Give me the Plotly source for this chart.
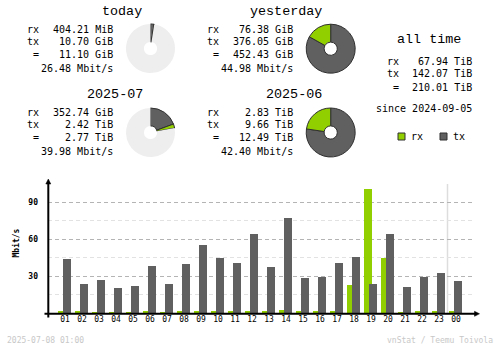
import plotly.graph_objects as go

W, H = 500, 348

RX_COLOR = "#92cf00"
TX_COLOR = "#606060"
EDGE = "#303030"
BLANK = "#eeeeee"
FONT = "DejaVu Sans Mono"
TITLE_FONT = "Liberation Mono"

# hourly average rates, Mbit/s
hours = ["01", "02", "03", "04", "05", "06", "07", "08", "09", "10", "11", "12",
         "13", "14", "15", "16", "17", "18", "19", "20", "21", "22", "23", "00"]
rx_rate = [1.0, 1.0, 0.2, 0.2, 0.2, 1.0, 0.2, 1.0, 1.0, 1.0, 1.0, 1.0,
           1.0, 2.7, 1.0, 1.0, 1.0, 23.0, 100.8, 44.9, 0.2, 1.0, 1.0, 1.0]
tx_rate = [44.0, 23.8, 27.0, 20.5, 22.2, 38.4, 23.8, 40.0, 55.4, 44.9, 40.8, 64.3,
           37.6, 77.3, 28.6, 29.5, 40.8, 45.7, 23.8, 64.3, 21.4, 29.5, 32.7, 26.2]

# period totals
today_gib = [404.21 / 1024, 10.70]        # rx, tx
yesterday_gib = [76.38, 376.05]
month_tib = [352.74 / 1024, 2.42]
prev_month_tib = [2.83, 9.66]

today_text = ["404.21 MiB", "10.70 GiB", "11.10 GiB", "26.48 Mbit/s"]
yesterday_text = ["76.38 GiB", "376.05 GiB", "452.43 GiB", "44.98 Mbit/s"]
month_text = ["352.74 GiB", "2.42 TiB", "2.77 TiB", "39.98 Mbit/s"]
prev_month_text = ["2.83 TiB", "9.66 TiB", "12.49 TiB", "42.40 Mbit/s"]
alltime_text = ["67.94 TiB", "142.07 TiB", "210.01 TiB"]


def px(x):
    return x / W


def py(y):
    return 1 - y / H


fig = go.Figure()

# ---- donuts ----
def donut(cx, cy, cur, ref, r=24.5):
    total = sum(cur)
    rest = max(sum(ref) - total, 0)
    vals = [cur[1], cur[0], rest]
    fig.add_trace(go.Pie(
        values=vals,
        marker=dict(colors=[TX_COLOR, RX_COLOR, BLANK],
                    line=dict(color=[EDGE, EDGE, "rgba(0,0,0,0)"], width=1)),
        hole=0.27, sort=False, direction="clockwise", rotation=0,
        textinfo="none", hoverinfo="skip", showlegend=False,
        domain=dict(x=[px(cx - r), px(cx + r)], y=[py(cy + r), py(cy - r)]),
    ))


donut(150.5, 48.5, today_gib, yesterday_gib)
donut(330.7, 48.7, yesterday_gib, yesterday_gib)
donut(150.5, 132.5, month_tib, prev_month_tib)
donut(330.7, 132.5, prev_month_tib, prev_month_tib)

# ---- hourly bars ----
fig.add_trace(go.Bar(x=hours, y=rx_rate, marker=dict(color=RX_COLOR, line_width=0),
                     width=0.43, offset=-0.39, hoverinfo="skip", showlegend=False))
fig.add_trace(go.Bar(x=hours, y=tx_rate, marker=dict(color=TX_COLOR, line_width=0),
                     width=0.47, offset=-0.12, hoverinfo="skip", showlegend=False))

annotations = []


def text(x, y, s, anchor="left", size=10, color="#000000", family=FONT):
    annotations.append(dict(
        x=px(x), y=py(y), xref="paper", yref="paper", text=s,
        showarrow=False, xanchor=anchor, yanchor="middle",
        font=dict(family=family, size=size, color=color),
    ))


def block(title, title_x, left, right, top, vals):
    text(title_x, top, title, "center", 13.4, family=TITLE_FONT)
    rows = [top + 17.5, top + 30, top + 43, top + 56.8]
    for lab, v, y in zip(["rx", "tx", "&nbsp;="], vals[:3], rows[:3]):
        text(left, y, lab)
        text(right, y, v, "right")
    text(right, rows[3], vals[3], "right")


block("today", 122.3, 25, 115, 11.7, today_text)
block("yesterday", 286, 205, 295, 11.7, yesterday_text)
block("2025-07", 114.5, 25, 115, 94.5, month_text)
block("2025-06", 294, 205, 295, 94.5, prev_month_text)

# all time
text(428.5, 39.5, "all time", "center", 13.4, family=TITLE_FONT)
for lab, v, y in zip(["rx", "tx", "&nbsp;="], alltime_text, [62, 73.7, 87.5]):
    text(385, y, lab)
    text(474, y, v, "right")
text(474, 108.3, "since 2024-09-05", "right")

# legend
shapes = []
for x0, col, lab in [(398, RX_COLOR, "rx"), (440, TX_COLOR, "tx")]:
    shapes.append(dict(type="rect", xref="paper", yref="paper",
                       x0=px(x0), x1=px(x0 + 7), y0=py(140), y1=py(133),
                       fillcolor=col, line=dict(color=EDGE, width=1)))
    text(x0 + 10.5, 136.3, lab)

# chart labels
annotations.append(dict(x=px(15), y=py(243.5), xref="paper", yref="paper",
                        text="<b>Mbit/s</b>", textangle=-90, showarrow=False,
                        xanchor="center", yanchor="middle",
                        font=dict(family=FONT, size=8, color="#000000")))
text(5, 340, "2025-07-08 01:00", "left", 8, "#c8c8c8")
text(495, 340, "vnStat / Teemu Toivola", "right", 8, "#c8c8c8")

# axes with arrow heads
shapes += [
    dict(type="line", xref="paper", yref="paper", x0=px(48.3), x1=px(48.3),
         y0=py(317.5), y1=py(182), line=dict(color="#000000", width=2)),
    dict(type="line", xref="paper", yref="paper", x0=px(44.5), x1=px(476),
         y0=py(313.8), y1=py(313.8), line=dict(color="#000000", width=2)),
    dict(type="path", xref="paper", yref="paper",
         path=f"M {px(48.3)} {py(179)} L {px(45.8)} {py(184)} L {px(50.8)} {py(184)} Z",
         fillcolor="#000000", line=dict(color="#000000", width=0.5)),
    dict(type="path", xref="paper", yref="paper",
         path=f"M {px(479.5)} {py(313.8)} L {px(474.5)} {py(311.3)} L {px(474.5)} {py(316.3)} Z",
         fillcolor="#000000", line=dict(color="#000000", width=0.5)),
    dict(type="line", xref="x", yref="paper", x0=22.5, x1=22.5,
         y0=py(313), y1=py(184), line=dict(color="#dddddd", width=1.5), layer="below"),
]

fig.update_layout(
    width=W, height=H,
    margin=dict(l=0, r=0, t=0, b=0),
    paper_bgcolor="#ffffff", plot_bgcolor="#ffffff",
    barmode="overlay", bargap=0,
    annotations=annotations, shapes=shapes,
    xaxis=dict(domain=[px(48), px(473)], range=[-1, 24], type="category",
               showgrid=False, zeroline=False, showline=False, ticks="",
               tickfont=dict(family=FONT, size=8, color="#000000"),
               tickangle=0, fixedrange=True),
    yaxis=dict(domain=[py(313), py(184)], range=[0, 104.8], tickvals=[30, 60, 90],
               ticktext=["<b>30</b>", "<b>60</b>", "<b>90</b>"],
               showgrid=True, gridcolor="#b4b4b4", griddash="4px,3px", gridwidth=1,
               minor=dict(tickvals=[15, 45, 75], showgrid=True, gridcolor="#e2e2e2",
                          griddash="4px,3px", gridwidth=1),
               zeroline=False, showline=False, ticks="", ticklabelstandoff=9,
               tickfont=dict(family=FONT, size=8, color="#000000"), fixedrange=True),
)

fig.write_html("out.html")
